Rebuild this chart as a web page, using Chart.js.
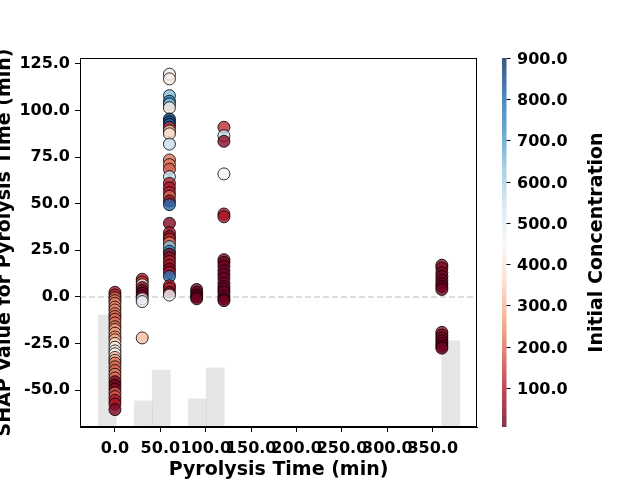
<!DOCTYPE html>
<html>
<head>
<meta charset="utf-8">
<script src="https://cdn.jsdelivr.net/npm/chart.js@4"></script>
<style>
  html, body { margin: 0; padding: 0; background: #fff; }
  canvas { display: block; }
</style>
</head>
<body>
<canvas id="chart" width="640" height="480"></canvas>
<script>
// SHAP values per pyrolysis time (min), with initial concentration for colour
const shapT0 = [2.5, 1, -0.5, -2, -3.5, -5.5, -7, -9, -10.5, -12, -14, -16, -17.5, -19.5, -21.5, -23, -25, -27, -29, -30.5, -32.5, -34, -35.5, -37.5, -39.5, -41.5, -43.5, -45.5, -47.5, -49.5, -51.5, -53.5, -55.5, -57.5, -60.5];
const concT0 = [90, 110, 200, 210, 230, 240, 230, 220, 200, 190, 210, 200, 260, 270, 250, 280, 380, 420, 440, 400, 340, 300, 210, 200, 190, 220, 200, 30, 20, 40, 180, 170, 90, 80, 30];

const shapT30 = [9.5, 8, 6.5, 5, 3.5, 2, 0.5, -1, -2.5, -22];
const concT30 = [100, 130, 420, 60, 20, 15, 25, 450, 500, 310];

const shapT60 = [119.5, 117, 108, 105, 103.5, 101.5, 95.5, 94, 92.5, 91, 89, 87.5, 82, 73.5, 71, 68.5, 64.5, 61, 58.5, 56, 54, 51.5, 49.5, 39.5, 34.5, 32.5, 31, 29, 27, 24.5, 23, 21, 19, 17, 15, 13, 11, 6, 4.5, 2.5, 1];
const concT60 = [430, 420, 650, 760, 640, 420, 870, 850, 820, 120, 350, 380, 560, 210, 220, 180, 560, 100, 90, 110, 200, 60, 800, 40, 90, 60, 110, 220, 640, 740, 30, 50, 110, 80, 30, 90, 780, 90, 100, 20, 460];

const shapT90 = [4, 2.5, 1, 0, -1];
const concT90 = [15, 10, 20, 12, 10];

const shapT120 = [91, 86.5, 83.5, 66, 44.5, 43, 20, 18.5, 16.5, 14, 12, 10, 7.5, 5.5, 4, 2.5, 0.5, -1, -2];
const concT120 = [120, 560, 50, 440, 90, 80, 30, 20, 15, 10, 20, 12, 15, 10, 18, 12, 15, 10, 12];

const shapT360 = [17, 15.5, 13, 11, 9, 7, 5.5, 4, -19, -20.5, -22, -23.5, -25, -26.5, -27.5];
const concT360 = [50, 40, 30, 20, 15, 12, 10, 14, 60, 45, 35, 20, 15, 10, 12];

// background histogram of pyrolysis time (bin centre, bar top on the SHAP axis)
const histCenter = [-8.5, 31.2, 51.0, 90.6, 110.4, 369.9];
const histTop = [-9.7, -55.8, -39.2, -54.7, -38.1, -23.6];

// ticks and limits
const xTicks = [0, 50, 100, 150, 200, 250, 300, 350];
const yTicks = [-50, -25, 0, 25, 50, 75, 100, 125];
const cbarTicks = [100, 200, 300, 400, 500, 600, 700, 800, 900];
const xMin = -38.5, xMax = 398.7;
const yMin = -69.8, yMax = 128.2;
const concMin = 5, concMax = 900;

// matplotlib RdBu
const RDBU = [
  [103, 0, 31], [178, 24, 43], [214, 96, 77], [244, 165, 130], [253, 219, 199],
  [247, 247, 247], [209, 229, 240], [146, 197, 222], [67, 147, 195], [33, 102, 172], [5, 48, 97]
];

function rdbu(t, alpha) {
  t = Math.max(0, Math.min(1, t));
  const s = t * 10;
  const i = Math.min(9, Math.floor(s));
  const f = s - i;
  const a = RDBU[i], b = RDBU[i + 1];
  const c = a.map((v, k) => Math.round(v + (b[k] - v) * f));
  return "rgba(" + c[0] + "," + c[1] + "," + c[2] + "," + alpha + ")";
}

function concColor(c) {
  return rdbu((c - concMin) / (concMax - concMin), 0.8);
}

document.addEventListener("DOMContentLoaded", function () {
  dibujarGrafico();
});

function armarPuntos() {
  const grupos = [
    [0, shapT0, concT0],
    [30, shapT30, concT30],
    [60, shapT60, concT60],
    [90, shapT90, concT90],
    [120, shapT120, concT120],
    [360, shapT360, concT360],
  ];
  const puntos = [];
  const colores = [];
  grupos.forEach(([t, shap, conc]) => {
    shap.forEach((v, i) => {
      puntos.push({ x: t, y: v });
      colores.push(concColor(conc[i]));
    });
  });
  return { puntos, colores };
}

// titles, frame and colorbar
const decoPlugin = {
  id: "deco",
  afterDraw(chart) {
    const ctx = chart.ctx;
    const a = chart.chartArea;
    const midY = (a.top + a.bottom) / 2;

    ctx.save();
    ctx.strokeStyle = "#000";
    ctx.lineWidth = 1;
    ctx.strokeRect(a.left + 0.5, a.top + 0.5, a.right - a.left - 1, a.bottom - a.top - 1);

    ctx.fillStyle = "#000";
    ctx.font = 'bold 19px "DejaVu Sans"';
    ctx.textAlign = "center";
    ctx.textBaseline = "alphabetic";
    ctx.fillText("Pyrolysis Time (min)", (a.left + a.right) / 2, 475);

    ctx.save();
    ctx.translate(9.5, midY);
    ctx.rotate(-Math.PI / 2);
    ctx.fillText("SHAP Value for Pyrolysis Time (min)", 0, 0);
    ctx.restore();

    ctx.save();
    ctx.translate(602, midY);
    ctx.rotate(-Math.PI / 2);
    ctx.fillText("Initial Concentration", 0, 0);
    ctx.restore();

    // colorbar
    const cbLeft = 502, cbWidth = 4.5;
    const cbPix = (v) => a.bottom - ((v - concMin) / (concMax - concMin)) * (a.bottom - a.top);
    const grad = ctx.createLinearGradient(0, a.bottom, 0, a.top);
    for (let k = 0; k <= 20; k++) grad.addColorStop(k / 20, rdbu(k / 20, 0.8));
    ctx.fillStyle = grad;
    ctx.fillRect(cbLeft, a.top, cbWidth, a.bottom - a.top);

    ctx.strokeStyle = "#000";
    ctx.lineWidth = 1;
    ctx.fillStyle = "#000";
    ctx.font = 'bold 16px "DejaVu Sans"';
    ctx.textAlign = "left";
    ctx.textBaseline = "middle";
    cbarTicks.forEach((v) => {
      const py = Math.round(cbPix(v)) + 0.5;
      ctx.beginPath();
      ctx.moveTo(cbLeft + cbWidth, py);
      ctx.lineTo(cbLeft + cbWidth + 4, py);
      ctx.stroke();
      ctx.fillText(v.toFixed(1), 517, py + 1);
    });
    ctx.restore();
  },
};

function dibujarGrafico() {
  const ctx = document.getElementById("chart").getContext("2d");
  const { puntos, colores } = armarPuntos();

  Chart.defaults.font.family = '"DejaVu Sans"';
  Chart.defaults.font.size = 16;
  Chart.defaults.font.weight = "bold";
  Chart.defaults.color = "#000";

  new Chart(ctx, {
    type: "scatter",
    data: {
      datasets: [
        {
          type: "bar",
          data: histCenter.map((c, i) => ({ x: c, y: [yMin, histTop[i]] })),
          backgroundColor: "rgba(128,128,128,0.2)",
          borderWidth: 0,
          barPercentage: 1,
          categoryPercentage: 1,
          order: 3,
        },
        {
          type: "line",
          data: [{ x: xMin, y: 0 }, { x: xMax, y: 0 }],
          borderColor: "rgba(128,128,128,0.35)",
          borderDash: [6, 3],
          borderWidth: 1.5,
          pointRadius: 0,
          order: 2,
        },
        {
          type: "scatter",
          data: puntos,
          backgroundColor: colores,
          borderColor: "rgba(0,0,0,0.8)",
          borderWidth: 1,
          pointRadius: 6,
          order: 1,
        },
      ],
    },
    options: {
      responsive: false,
      animation: false,
      devicePixelRatio: 1,
      layout: { padding: { left: 0, top: 58, right: 163, bottom: 0 } },
      plugins: { legend: { display: false }, tooltip: { enabled: false } },
      scales: {
        x: {
          type: "linear",
          min: xMin,
          max: xMax,
          offset: false,
          afterFit: (s) => { s.height = 53; },
          afterBuildTicks: (s) => { s.ticks = xTicks.map((v) => ({ value: v })); },
          ticks: {
            autoSkip: false,
            maxRotation: 0,
            minRotation: 0,
            padding: 7,
            callback: (v) => Number(v).toFixed(1),
          },
          grid: { offset: false, drawOnChartArea: false, drawTicks: true, tickLength: 5, color: "#000" },
          border: { display: true, color: "#000", width: 1 },
        },
        y: {
          type: "linear",
          min: yMin,
          max: yMax,
          afterFit: (s) => { s.width = 80; },
          afterBuildTicks: (s) => { s.ticks = yTicks.map((v) => ({ value: v })); },
          ticks: {
            padding: 5,
            callback: (v) => Number(v).toFixed(1),
          },
          grid: { drawOnChartArea: false, drawTicks: true, tickLength: 5, color: "#000" },
          border: { display: true, color: "#000", width: 1 },
        },
      },
    },
    plugins: [decoPlugin],
  });
}
</script>
</body>
</html>
